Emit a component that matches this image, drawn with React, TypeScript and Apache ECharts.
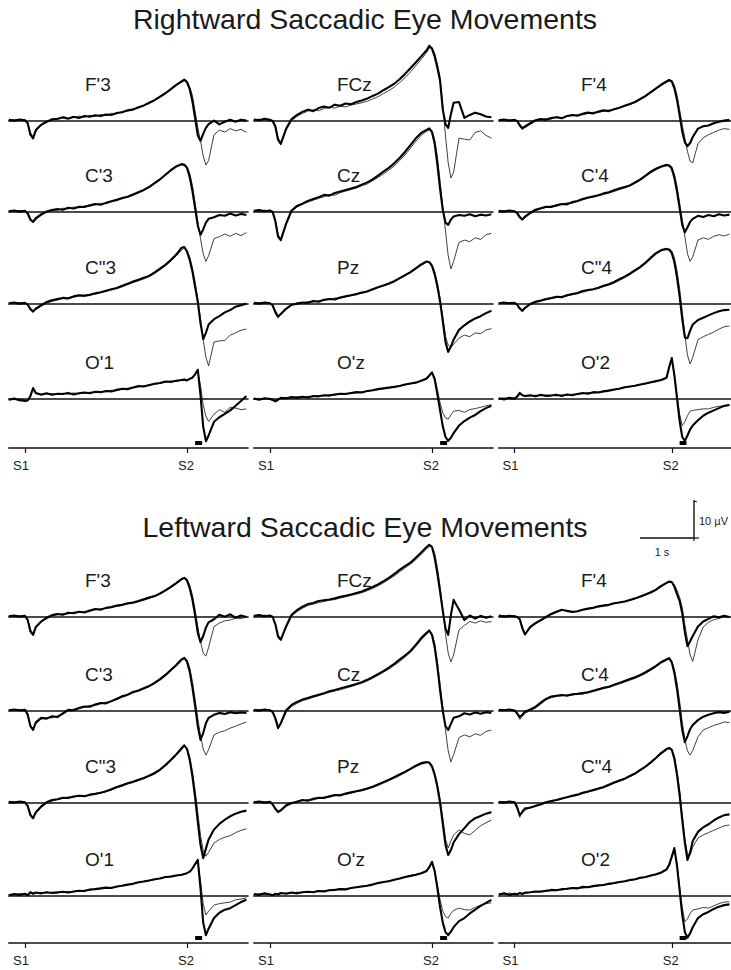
import React, { useEffect, useRef } from "react";
import * as echarts from "echarts";

// Sample times (s, relative to S1 onset)
const TIME_S = [-0.3, -0.2, -0.1, 0, 0.05, 0.1, 0.15, 0.2, 0.3, 0.4, 0.5, 0.6, 0.7, 0.8, 0.9, 1.0, 1.1, 1.2, 1.3, 1.4, 1.5, 1.6, 1.7, 1.8, 1.9, 2.0, 2.1, 2.2, 2.3, 2.4, 2.5, 2.6, 2.7, 2.8, 2.9, 2.95, 3.0, 3.05, 3.1, 3.15, 3.2, 3.25, 3.3, 3.35, 3.4, 3.5, 3.6, 3.7, 3.8, 3.9, 4.0, 4.1];

// Stimulus markers on the time axis
const STIM_TIMES = [0, 3];
const STIM_LABELS = ["S1", "S2"];
// Saccade onset bar (s)
const SACCADE_BAR_S = [3.15, 3.28];
// Calibration bar: 1 s by 10 µV
const CAL_SECONDS = 1;
const CAL_MICROVOLTS = 10;

const HALF_TITLES = ["Rightward Saccadic Eye Movements", "Leftward Saccadic Eye Movements"];
const ELECTRODES = [
  ["F'3", "FCz", "F'4"],
  ["C'3", "Cz", "C'4"],
  ['C"3', "Pz", 'C"4'],
  ["O'1", "O'z", "O'2"],
];

// ---- Rightward saccades (µV): _A bold trace, _B thin trace ----
const R_F3_A = [0.3, 0.1, 0.4, 0.2, -0.6, -3.6, -4.6, -2.4, -1.0, -0.2, 0.4, 0.6, 0.9, 0.6, 1.1, 0.8, 1.3, 1.1, 1.5, 1.3, 1.7, 1.6, 2.1, 2.3, 2.8, 3.0, 3.6, 4.1, 4.8, 5.5, 6.4, 7.3, 8.4, 9.5, 10.4, 10.9, 10.2, 8.4, 5.2, 0.8, -3.8, -5.2, -3.4, -1.8, -0.8, 0.1, -0.9, -0.2, 0.3, -0.2, 0.3, 0.1];
const R_F3_B = [0.2, 0.3, 0.1, 0.3, -0.4, -3.0, -4.2, -2.8, -0.8, -0.4, 0.7, 0.3, 1.2, 0.8, 0.9, 1.3, 1.0, 1.5, 1.2, 1.7, 1.4, 2.0, 1.9, 2.5, 2.6, 3.2, 3.4, 4.0, 4.6, 5.4, 6.2, 7.2, 8.2, 9.3, 10.2, 10.6, 10.5, 9.0, 6.8, 2.6, -1.8, -5.2, -9.2, -11.6, -10.4, -3.6, -2.4, -2.9, -2.0, -2.6, -2.2, -3.0];
const R_FCZ_A = [0.4, 0.2, 0.6, 0.3, 0.0, -1.5, -5.0, -6.0, -2.0, 0.5, 1.6, 2.4, 3.0, 2.6, 3.4, 3.8, 3.5, 4.3, 4.0, 4.6, 4.4, 5.0, 5.4, 5.9, 6.6, 7.2, 8.1, 8.9, 9.8, 11.0, 12.4, 13.9, 15.4, 17.0, 18.6, 19.8, 19.0, 17.0, 14.0, 10.5, 3.0, -0.8, -1.8, 1.8, 4.8, 5.0, 0.8, 1.6, 2.2, 1.8, 1.2, 1.0];
const R_FCZ_B = [0.3, 0.5, 0.2, 0.4, 0.1, -1.2, -4.4, -5.6, -2.4, 0.1, 1.2, 2.0, 2.6, 2.9, 2.7, 3.3, 3.6, 3.4, 3.9, 3.7, 4.2, 4.5, 4.8, 5.2, 5.8, 6.4, 7.2, 8.0, 8.9, 10.1, 11.4, 12.9, 14.5, 16.2, 18.0, 19.2, 19.4, 17.8, 15.0, 11.5, 4.0, -4.0, -11.0, -15.0, -13.5, -4.5, -4.8, -5.0, -3.0, -2.6, -3.8, -4.5];
const R_F4_A = [0.2, 0.4, 0.1, 0.3, 0.0, -1.2, -2.0, -1.4, -0.6, 0.2, 0.5, 0.3, 0.8, 1.0, 0.7, 1.3, 1.6, 1.4, 1.9, 2.2, 2.0, 2.5, 2.8, 2.6, 3.1, 3.5, 4.0, 4.5, 5.0, 5.8, 6.6, 7.6, 8.6, 9.6, 10.4, 10.8, 10.4, 8.6, 5.6, 1.5, -2.8, -5.6, -6.6, -5.8, -4.2, -2.0, -1.4, -1.2, -0.6, -0.2, 0.1, 0.3];
const R_F4_B = [0.4, 0.1, 0.3, 0.2, 0.1, -0.8, -1.6, -1.8, -0.9, 0.0, 0.3, 0.6, 0.5, 1.1, 0.9, 1.2, 1.4, 1.7, 1.6, 2.0, 2.3, 2.2, 2.6, 2.9, 3.0, 3.4, 3.9, 4.3, 4.9, 5.6, 6.4, 7.4, 8.4, 9.3, 10.2, 10.5, 10.6, 9.4, 6.8, 3.0, -1.0, -4.5, -8.0, -10.6, -11.0, -6.0, -4.4, -3.6, -3.0, -2.4, -2.0, -2.2];
const R_C3_A = [0.2, 0.4, 0.1, 0.3, -0.4, -2.0, -2.6, -1.6, -0.6, 0.1, 0.5, 0.8, 0.6, 1.1, 0.9, 1.4, 1.3, 1.8, 2.1, 1.9, 2.4, 2.8, 3.2, 3.7, 4.0, 4.6, 5.2, 5.8, 6.6, 7.6, 8.6, 9.8, 11.0, 12.0, 12.6, 12.4, 11.6, 9.2, 5.6, 1.0, -3.6, -6.0, -4.6, -2.8, -1.8, -1.4, -0.8, -1.0, -0.4, -0.9, -0.5, -0.8];
const R_C3_B = [0.3, 0.2, 0.4, 0.1, -0.2, -1.6, -2.8, -2.0, -0.9, -0.1, 0.6, 0.4, 1.0, 0.8, 1.3, 1.1, 1.6, 1.5, 1.9, 2.3, 2.2, 2.7, 3.0, 3.5, 3.9, 4.4, 5.0, 5.7, 6.4, 7.4, 8.5, 9.6, 10.8, 11.8, 12.4, 12.6, 12.0, 10.2, 7.0, 2.5, -2.5, -7.0, -11.0, -13.0, -11.5, -7.0, -6.5, -5.8, -6.4, -5.6, -6.2, -5.4];
const R_CZ_A = [0.3, 0.5, 0.2, 0.4, 0.0, -2.5, -6.5, -7.4, -3.0, 0.4, 1.6, 2.2, 2.9, 3.4, 3.9, 4.5, 4.3, 5.0, 5.4, 5.8, 6.2, 6.6, 7.2, 7.8, 8.6, 9.6, 10.6, 11.6, 12.8, 14.2, 15.8, 17.6, 19.4, 20.8, 21.6, 22.0, 21.0, 18.0, 12.5, 6.0, 0.5, -2.8, -3.4, -2.0, -1.2, -0.8, -1.0, -0.6, -1.1, -0.7, -0.9, -0.6];
const R_CZ_B = [0.4, 0.2, 0.5, 0.2, 0.1, -2.0, -6.0, -7.0, -3.4, 0.1, 1.3, 2.0, 2.6, 3.1, 3.6, 4.0, 4.6, 4.4, 5.1, 5.5, 5.9, 6.3, 6.9, 7.4, 8.2, 9.1, 10.0, 11.0, 12.1, 13.5, 15.0, 16.8, 18.6, 20.2, 21.2, 21.6, 21.4, 19.0, 14.5, 8.0, 1.5, -5.0, -11.5, -15.0, -13.0, -8.0, -7.4, -7.8, -6.8, -7.2, -6.0, -5.6];
const R_C4_A = [0.3, 0.1, 0.4, 0.2, -0.3, -1.4, -2.0, -1.2, -0.2, 0.6, 1.0, 1.4, 1.3, 1.8, 2.1, 2.0, 2.6, 2.9, 3.4, 3.8, 4.1, 4.4, 4.9, 5.2, 5.7, 6.2, 6.6, 7.0, 7.8, 8.6, 9.6, 10.6, 11.4, 12.0, 12.4, 12.2, 11.4, 9.0, 5.4, 1.0, -3.4, -5.3, -4.0, -2.6, -1.8, -1.0, -1.3, -0.8, -1.1, -0.6, -0.9, -0.7];
const R_C4_B = [0.2, 0.4, 0.2, 0.3, -0.1, -1.0, -1.8, -1.5, -0.5, 0.3, 0.8, 1.2, 1.6, 1.5, 2.0, 2.4, 2.3, 2.8, 3.2, 3.6, 3.9, 4.3, 4.6, 5.0, 5.4, 5.9, 6.3, 6.9, 7.5, 8.3, 9.3, 10.3, 11.1, 11.8, 12.2, 12.4, 12.0, 10.0, 6.8, 2.4, -2.0, -6.5, -11.0, -13.0, -11.8, -7.4, -6.8, -7.2, -6.4, -6.0, -6.3, -5.8];
const R_C3P_A = [0.2, 0.4, 0.1, 0.3, -0.2, -1.4, -2.0, -1.2, -0.3, 0.5, 1.0, 1.3, 1.6, 1.5, 2.0, 2.3, 2.2, 2.4, 2.8, 3.1, 3.5, 3.9, 4.2, 4.8, 5.3, 5.9, 6.4, 6.9, 7.4, 8.3, 9.3, 10.3, 11.6, 13.0, 14.8, 15.0, 13.8, 11.6, 8.6, 4.5, 0.5, -5.0, -9.2, -7.6, -5.4, -4.0, -3.2, -2.2, -1.6, -0.7, -0.3, 0.1];
const R_C3P_B = [0.3, 0.2, 0.4, 0.1, 0.0, -1.0, -1.8, -1.5, -0.6, 0.2, 0.7, 1.0, 1.5, 1.3, 1.8, 2.1, 2.0, 2.5, 2.6, 3.0, 3.3, 3.7, 4.1, 4.5, 5.1, 5.6, 6.1, 6.6, 7.2, 8.0, 9.0, 10.1, 11.3, 12.6, 14.2, 14.8, 14.0, 12.4, 9.6, 5.8, 1.5, -4.0, -9.5, -14.0, -16.3, -10.0, -9.7, -9.6, -8.2, -7.6, -6.9, -6.6];
const R_PZ_A = [0.3, 0.1, 0.4, 0.2, -0.4, -2.2, -3.4, -2.6, -1.2, -0.2, 0.1, 0.4, 0.3, 0.8, 0.6, 1.1, 1.3, 1.2, 1.7, 2.0, 2.3, 2.6, 3.0, 3.3, 3.9, 4.4, 4.9, 5.4, 6.0, 6.8, 7.6, 8.4, 9.4, 10.4, 11.2, 11.0, 10.0, 7.8, 4.6, 0.6, -4.5, -10.0, -12.6, -11.2, -9.4, -6.8, -5.6, -4.6, -3.8, -3.2, -2.4, -1.8];
const R_PZ_B = [0.2, 0.4, 0.2, 0.3, -0.2, -1.8, -3.0, -2.9, -1.5, -0.4, 0.3, 0.2, 0.6, 0.5, 0.9, 1.0, 1.2, 1.6, 1.5, 1.9, 2.2, 2.7, 2.8, 3.4, 3.7, 4.3, 4.7, 5.2, 5.8, 6.6, 7.4, 8.2, 9.2, 10.2, 11.0, 11.2, 10.4, 8.6, 5.6, 1.5, -3.5, -8.5, -10.8, -11.4, -10.6, -9.0, -8.2, -8.6, -7.6, -7.8, -6.8, -6.5];
const R_C4P_A = [0.2, 0.4, 0.2, 0.3, -0.2, -1.2, -1.8, -1.0, 0.0, 0.6, 0.9, 1.3, 1.6, 1.9, 1.8, 2.3, 2.6, 2.9, 3.4, 3.7, 3.9, 4.3, 4.8, 5.2, 5.8, 6.5, 7.2, 8.0, 8.9, 9.8, 10.9, 12.2, 13.4, 14.2, 14.5, 14.3, 13.4, 11.0, 7.0, 2.0, -4.0, -8.8, -9.0, -7.0, -5.4, -4.2, -3.6, -3.0, -2.4, -1.9, -1.6, -1.5];
const R_C4P_B = [0.3, 0.1, 0.4, 0.2, 0.0, -0.9, -1.6, -1.2, -0.2, 0.4, 0.7, 1.1, 1.4, 1.7, 2.0, 2.1, 2.5, 2.7, 3.1, 3.5, 3.8, 4.1, 4.6, 5.0, 5.5, 6.2, 6.9, 7.7, 8.6, 9.5, 10.6, 11.9, 13.1, 14.0, 14.4, 14.5, 14.0, 12.2, 8.8, 4.0, -2.0, -8.0, -13.5, -15.8, -14.0, -9.4, -8.6, -8.0, -7.4, -6.6, -6.0, -5.8];
const R_O1_A = [-0.2, 0.1, -0.3, -0.5, -0.4, 0.8, 2.9, 1.6, 1.2, 1.5, 1.1, 1.4, 1.3, 1.6, 1.2, 1.5, 1.7, 1.5, 1.9, 1.8, 2.1, 2.0, 2.4, 2.7, 2.6, 3.0, 3.4, 3.3, 3.7, 4.0, 4.2, 4.6, 4.5, 4.8, 5.0, 5.1, 4.9, 5.3, 5.6, 6.5, 7.7, 1.0, -7.3, -11.1, -9.6, -6.0, -4.8, -3.9, -3.0, -1.8, -0.5, 0.8];
const R_O1_B = [-0.3, 0.2, -0.1, -0.4, -0.3, 0.6, 2.4, 1.4, 1.0, 1.3, 1.4, 1.2, 1.5, 1.3, 1.6, 1.4, 1.5, 1.8, 1.7, 2.0, 1.9, 2.3, 2.2, 2.6, 2.8, 2.9, 3.2, 3.5, 3.5, 3.9, 4.1, 4.4, 4.7, 4.6, 5.0, 5.2, 5.0, 5.4, 5.8, 6.6, 7.4, 3.5, -1.5, -4.6, -5.9, -4.0, -2.8, -3.5, -2.2, -2.4, -2.8, -2.6];
const R_OZ_A = [0.1, -0.2, 0.2, 0.0, -0.3, -0.6, -0.2, 0.3, 0.2, 0.5, 0.3, 0.6, 0.4, 0.8, 0.7, 1.0, 0.9, 1.2, 1.4, 1.3, 1.6, 1.8, 1.7, 2.1, 2.3, 2.6, 2.8, 3.0, 3.2, 3.4, 3.8, 4.1, 4.3, 4.8, 5.4, 6.2, 7.0, 5.2, 1.2, -3.0, -7.2, -10.0, -11.0, -10.2, -9.0, -7.0, -5.8, -4.9, -4.2, -3.2, -2.4, -1.8];
const R_OZ_B = [-0.1, 0.2, 0.0, 0.2, -0.1, -0.4, 0.1, 0.2, 0.4, 0.3, 0.6, 0.4, 0.7, 0.6, 0.9, 0.8, 1.1, 1.0, 1.3, 1.5, 1.4, 1.7, 1.9, 2.0, 2.2, 2.5, 2.7, 2.9, 3.1, 3.5, 3.7, 4.0, 4.4, 4.7, 5.2, 6.0, 6.8, 5.6, 2.4, -1.0, -3.6, -5.0, -5.3, -4.2, -3.2, -3.0, -3.5, -2.8, -2.5, -2.2, -1.8, -1.5];
const R_O2_A = [0.2, -0.1, 0.3, 0.1, 0.6, 1.6, 1.0, 0.8, 1.0, 0.7, 1.1, 0.8, 0.9, 1.1, 0.8, 1.2, 1.0, 1.3, 1.6, 1.4, 1.8, 1.7, 2.0, 2.2, 2.5, 2.7, 3.1, 3.3, 3.5, 3.8, 4.1, 4.4, 4.7, 5.0, 5.6, 8.4, 10.8, 6.2, 0.2, -5.8, -10.0, -11.0, -9.6, -8.0, -7.0, -5.6, -4.4, -3.6, -3.0, -2.4, -1.8, -1.6];
const R_O2_B = [0.1, 0.3, 0.0, 0.2, 0.4, 1.3, 1.1, 0.7, 0.8, 1.0, 0.8, 1.1, 1.0, 0.8, 1.1, 1.0, 1.3, 1.2, 1.4, 1.7, 1.6, 1.9, 2.1, 2.3, 2.4, 2.8, 3.0, 3.2, 3.6, 3.7, 4.0, 4.3, 4.6, 5.1, 5.5, 8.0, 10.2, 6.6, 1.0, -4.0, -7.0, -6.0, -4.4, -3.2, -3.0, -2.8, -2.6, -2.6, -2.2, -1.9, -1.8, -1.6];

// ---- Leftward saccades (µV) ----
const L_F3_A = [0.2, 0.4, 0.1, 0.3, -0.8, -3.8, -4.7, -2.6, -1.2, -0.2, 0.5, 0.8, 0.6, 1.1, 1.0, 1.4, 1.2, 1.7, 2.1, 1.9, 2.4, 2.6, 3.0, 3.2, 3.6, 3.8, 4.2, 4.7, 5.1, 5.5, 6.2, 7.0, 7.9, 8.9, 10.0, 10.3, 9.6, 7.6, 4.6, 0.5, -4.2, -6.6, -5.0, -2.8, -1.4, -0.6, 0.6, 0.1, 0.7, -0.2, 0.4, 0.0];
const L_F3_B = [0.3, 0.1, 0.4, 0.2, -0.5, -3.2, -4.4, -2.9, -1.0, -0.5, 0.3, 0.6, 0.9, 0.8, 1.3, 1.2, 1.5, 1.5, 1.9, 2.2, 2.3, 2.6, 2.8, 3.1, 3.4, 3.6, 4.0, 4.4, 4.9, 5.4, 6.0, 6.8, 7.7, 8.7, 9.8, 10.2, 10.0, 8.4, 5.8, 2.0, -2.5, -6.5, -9.5, -10.3, -8.0, -2.5, -1.6, -1.0, -0.8, -0.3, -0.4, 0.0];
const L_FCZ_A = [0.3, 0.5, 0.2, 0.4, 0.0, -2.0, -5.2, -6.0, -2.4, 0.6, 1.8, 2.7, 3.4, 3.7, 4.2, 4.4, 4.6, 4.9, 5.3, 5.6, 5.9, 6.3, 6.7, 7.3, 7.9, 8.6, 9.4, 10.3, 11.3, 12.4, 13.4, 14.3, 15.6, 17.0, 18.4, 19.0, 18.4, 15.6, 11.4, 6.6, 1.6, -3.0, -4.7, 0.5, 4.5, 2.0, -0.8, 0.4, -0.4, 0.3, -0.2, 0.2];
const L_FCZ_B = [0.4, 0.2, 0.5, 0.2, 0.1, -1.6, -4.8, -5.6, -2.8, 0.2, 1.4, 2.3, 3.0, 3.4, 3.8, 4.1, 4.4, 4.6, 5.0, 5.3, 5.7, 6.0, 6.4, 6.9, 7.5, 8.2, 9.0, 9.9, 10.8, 11.9, 12.9, 13.9, 15.1, 16.5, 17.9, 18.6, 18.6, 16.8, 13.0, 8.0, 2.0, -4.5, -9.5, -11.8, -10.0, -3.4, -2.2, -1.2, -1.6, -1.0, -1.4, -1.2];
const L_F4_A = [0.4, 0.1, 0.3, 0.2, 0.0, -0.6, -3.0, -4.6, -2.6, -1.6, -0.8, 0.0, 0.8, 1.4, 1.9, 1.6, 1.3, 1.5, 1.9, 2.2, 2.4, 2.8, 3.0, 3.2, 3.6, 3.8, 4.1, 4.5, 4.9, 5.4, 5.9, 6.5, 7.2, 8.2, 9.0, 9.3, 9.2, 8.0, 6.0, 4.2, 1.0, -4.0, -7.7, -6.4, -5.0, -2.5, -1.2, -0.5, 0.2, -0.1, 0.3, 0.0];
const L_F4_B = [0.2, 0.4, 0.1, 0.3, 0.1, -0.4, -2.6, -4.3, -2.9, -1.8, -1.0, -0.2, 0.6, 1.2, 1.7, 1.8, 1.5, 1.4, 2.0, 2.1, 2.5, 2.6, 3.1, 3.3, 3.5, 3.9, 4.0, 4.4, 4.8, 5.2, 5.8, 6.3, 7.0, 8.0, 8.8, 9.3, 9.2, 8.4, 7.0, 5.2, 2.4, -2.0, -6.0, -10.0, -11.7, -6.0, -2.6, -1.4, -0.7, -0.4, 0.1, 0.0];
const L_C3_A = [0.2, 0.4, 0.2, 0.3, -1.0, -4.0, -5.0, -3.0, -1.8, -2.0, -1.4, -1.6, -0.6, 0.3, 0.2, 0.8, 1.2, 1.1, 1.7, 2.1, 2.0, 2.6, 3.2, 3.9, 4.3, 5.0, 5.4, 6.0, 6.6, 7.4, 8.4, 9.5, 10.8, 12.1, 13.6, 14.0, 13.0, 10.4, 6.2, 1.4, -4.0, -7.6, -5.8, -3.2, -1.8, -1.0, -0.5, -0.8, -0.3, -0.6, -0.4, -0.5];
const L_C3_B = [0.3, 0.2, 0.4, 0.1, -0.6, -3.6, -4.8, -3.4, -2.1, -1.7, -1.8, -1.3, -0.9, 0.0, 0.5, 0.6, 1.0, 1.5, 1.4, 1.9, 2.3, 2.5, 3.0, 3.6, 4.1, 4.8, 5.2, 5.8, 6.4, 7.2, 8.1, 9.2, 10.5, 11.8, 13.2, 13.8, 13.4, 11.4, 7.8, 3.0, -2.0, -6.5, -10.0, -11.6, -10.2, -6.3, -5.6, -5.2, -4.5, -4.0, -3.4, -2.9];
const L_CZ_A = [0.3, 0.1, 0.4, 0.2, -0.3, -2.0, -4.5, -3.2, 0.2, 1.6, 2.4, 3.0, 3.4, 3.9, 4.3, 4.7, 5.2, 5.5, 5.9, 6.3, 6.7, 7.1, 7.6, 8.2, 8.9, 9.7, 10.5, 11.4, 12.4, 13.5, 14.6, 15.8, 17.4, 19.2, 20.6, 21.2, 20.0, 16.8, 11.6, 5.4, 0.0, -4.0, -5.0, -3.4, -1.8, -1.4, -0.6, -0.9, -0.4, -0.7, -0.3, -0.5];
const L_CZ_B = [0.2, 0.4, 0.1, 0.3, -0.1, -1.6, -4.0, -3.5, -0.2, 1.2, 2.0, 2.7, 3.1, 3.6, 4.0, 4.5, 4.9, 5.3, 5.6, 6.0, 6.4, 6.9, 7.3, 7.9, 8.6, 9.4, 10.2, 11.0, 12.0, 13.0, 14.2, 15.4, 17.0, 18.7, 20.2, 21.0, 20.4, 17.8, 13.0, 7.0, 1.0, -5.0, -10.5, -13.4, -11.5, -7.0, -6.3, -6.8, -6.0, -6.4, -5.4, -5.0];
const L_C4_A = [0.3, 0.2, 0.4, 0.1, -0.6, -1.6, -1.0, -0.2, 0.4, 1.1, 2.2, 3.2, 3.8, 4.0, 4.2, 4.0, 4.4, 4.5, 4.7, 4.9, 5.3, 5.7, 6.1, 6.4, 6.9, 7.4, 7.9, 8.4, 8.9, 9.5, 10.2, 11.0, 11.9, 12.9, 13.6, 13.9, 12.8, 10.0, 5.8, 0.5, -5.0, -8.2, -6.6, -4.8, -3.7, -2.4, -1.5, -1.0, -0.6, -0.3, -0.5, -0.2];
const L_C4_B = [0.2, 0.4, 0.1, 0.3, -0.8, -2.2, -1.4, -0.6, 0.1, 0.8, 1.8, 2.9, 3.5, 3.8, 4.0, 4.3, 4.1, 4.6, 4.4, 5.0, 5.1, 5.5, 5.9, 6.2, 6.7, 7.1, 7.6, 8.1, 8.6, 9.2, 9.9, 10.7, 11.6, 12.6, 13.3, 13.8, 13.0, 11.0, 7.4, 2.5, -3.0, -7.5, -10.5, -11.6, -10.4, -6.8, -5.0, -4.4, -3.8, -3.4, -2.9, -3.0];
const L_C3P_A = [0.3, 0.1, 0.4, 0.2, -0.8, -3.2, -4.0, -2.4, -0.9, 0.2, 0.8, 1.0, 1.4, 1.3, 1.7, 1.9, 1.8, 2.2, 2.4, 2.7, 3.1, 3.6, 4.2, 4.7, 5.2, 5.6, 6.1, 6.6, 7.2, 7.9, 8.8, 10.0, 11.3, 12.8, 14.4, 15.2, 14.2, 11.4, 7.0, 1.5, -5.0, -11.0, -14.5, -12.0, -9.6, -7.0, -5.5, -4.4, -3.5, -2.8, -2.3, -2.0];
const L_C3P_B = [0.2, 0.4, 0.2, 0.3, -0.5, -2.8, -3.8, -2.8, -1.2, -0.1, 0.5, 0.9, 1.2, 1.6, 1.5, 2.0, 1.9, 2.0, 2.5, 2.6, 3.0, 3.4, 4.0, 4.4, 5.0, 5.4, 5.9, 6.4, 7.0, 7.6, 8.5, 9.7, 11.0, 12.5, 14.0, 15.0, 14.4, 12.2, 8.4, 3.4, -2.5, -8.5, -12.5, -14.0, -13.0, -10.5, -9.6, -9.0, -8.6, -7.8, -7.2, -6.8];
const L_PZ_A = [0.2, 0.4, 0.1, 0.3, -0.4, -1.6, -2.4, -1.9, -0.6, 0.0, 0.3, 0.8, 0.6, 1.1, 1.4, 1.3, 1.8, 2.1, 2.0, 2.5, 2.8, 3.1, 3.4, 3.8, 4.3, 4.9, 5.5, 6.1, 6.8, 7.5, 8.2, 9.0, 9.8, 10.5, 10.8, 10.6, 9.6, 7.4, 4.2, 0.0, -5.5, -11.0, -13.7, -12.4, -10.4, -8.2, -6.6, -5.0, -4.0, -3.4, -2.8, -2.4];
const L_PZ_B = [0.3, 0.2, 0.4, 0.1, -0.2, -1.2, -2.1, -2.2, -0.9, -0.2, 0.5, 0.6, 0.9, 0.8, 1.2, 1.6, 1.5, 1.9, 2.3, 2.2, 2.6, 3.0, 3.2, 3.6, 4.1, 4.6, 5.2, 5.9, 6.5, 7.2, 8.0, 8.8, 9.6, 10.2, 10.6, 10.8, 10.0, 8.0, 5.0, 1.0, -4.0, -9.5, -11.8, -10.0, -8.4, -7.1, -8.0, -8.4, -7.2, -6.0, -5.2, -4.5];
const L_C4P_A = [0.3, 0.1, 0.4, 0.2, -1.2, -3.2, -2.4, -1.6, -1.2, -0.8, -0.3, 0.2, 0.5, 0.8, 1.2, 1.5, 1.9, 2.2, 2.7, 3.0, 3.4, 3.8, 4.2, 4.8, 5.4, 5.9, 6.4, 7.1, 7.8, 8.7, 9.6, 10.7, 11.9, 13.2, 14.2, 14.5, 14.0, 11.6, 7.4, 2.0, -4.5, -10.5, -15.0, -13.0, -10.0, -7.6, -6.4, -5.6, -4.6, -3.8, -3.2, -3.0];
const L_C4P_B = [0.2, 0.4, 0.1, 0.3, -0.6, -3.8, -1.8, -1.2, -1.4, -0.6, -0.5, 0.0, 0.6, 0.7, 1.0, 1.6, 1.7, 2.0, 2.5, 2.9, 3.2, 3.6, 4.0, 4.6, 5.2, 5.7, 6.2, 6.9, 7.6, 8.5, 9.4, 10.5, 11.7, 12.9, 13.9, 14.3, 14.2, 12.4, 8.6, 3.5, -3.0, -9.5, -13.5, -13.7, -11.6, -9.2, -8.4, -7.8, -7.2, -6.6, -6.0, -5.8];
const L_O1_A = [0.2, 0.5, 0.3, 0.6, 0.2, 1.0, 0.6, 0.9, 0.7, 1.0, 0.8, 0.9, 1.1, 0.9, 1.2, 1.4, 1.3, 1.7, 1.8, 2.0, 2.2, 2.1, 2.5, 2.7, 3.0, 3.2, 3.6, 3.8, 4.1, 4.4, 4.6, 5.0, 5.1, 5.4, 5.6, 5.8, 6.0, 6.4, 7.2, 8.4, 9.5, 2.0, -7.0, -10.3, -8.6, -5.8, -4.4, -3.6, -3.2, -2.4, -1.6, -1.0];
const L_O1_B = [0.4, 0.3, 0.6, 0.4, 0.3, 0.8, 0.7, 0.8, 0.9, 0.8, 1.0, 1.1, 0.9, 1.2, 1.1, 1.3, 1.5, 1.5, 1.9, 1.9, 2.1, 2.3, 2.4, 2.8, 2.9, 3.3, 3.5, 3.9, 4.0, 4.3, 4.7, 4.9, 5.2, 5.3, 5.5, 5.7, 6.1, 6.5, 7.3, 8.3, 9.0, 4.0, -2.0, -5.0, -4.0, -2.4, -2.0, -1.8, -1.6, -1.0, -0.8, -0.5];
const L_OZ_A = [0.5, 0.3, 0.7, 0.4, 0.2, 0.6, 0.4, 0.8, 0.6, 0.9, 0.7, 1.0, 1.1, 1.0, 1.3, 1.2, 1.5, 1.6, 1.8, 1.7, 2.1, 2.3, 2.5, 2.7, 3.0, 3.4, 3.7, 3.9, 4.3, 4.6, 5.0, 5.3, 5.6, 6.0, 6.6, 7.6, 9.0, 6.5, 2.0, -3.0, -7.0, -9.5, -10.3, -9.4, -8.2, -6.6, -5.8, -4.6, -3.6, -2.6, -1.8, -1.0];
const L_OZ_B = [0.3, 0.6, 0.4, 0.5, 0.3, 0.5, 0.6, 0.6, 0.8, 0.7, 1.0, 0.9, 1.2, 1.1, 1.4, 1.4, 1.6, 1.7, 1.9, 2.0, 2.0, 2.4, 2.6, 2.8, 3.1, 3.3, 3.6, 4.0, 4.2, 4.5, 4.9, 5.2, 5.5, 5.9, 6.4, 7.4, 8.6, 6.8, 3.0, -1.0, -4.0, -5.4, -5.8, -4.6, -3.8, -3.2, -3.6, -3.7, -3.0, -2.4, -2.0, -1.8];
const L_O2_A = [0.4, 0.7, 0.3, 0.6, 0.4, 0.8, 0.5, 0.9, 1.0, 1.2, 1.1, 1.4, 1.6, 1.5, 1.8, 1.9, 2.1, 2.0, 2.4, 2.3, 2.6, 2.8, 2.9, 3.2, 3.4, 3.7, 3.9, 4.2, 4.4, 4.8, 5.0, 5.4, 5.7, 6.2, 7.0, 8.2, 10.4, 12.6, 8.0, 1.5, -5.0, -9.5, -11.0, -9.8, -8.2, -5.8, -4.8, -4.2, -3.4, -2.8, -2.4, -2.2];
const L_O2_B = [0.6, 0.4, 0.8, 0.5, 0.6, 0.7, 0.8, 0.7, 0.9, 1.1, 1.3, 1.2, 1.4, 1.7, 1.6, 1.8, 2.0, 2.2, 2.1, 2.5, 2.5, 2.7, 3.0, 3.1, 3.3, 3.6, 3.8, 4.1, 4.3, 4.7, 4.9, 5.3, 5.6, 6.0, 6.8, 8.0, 10.0, 12.0, 8.2, 2.5, -3.0, -6.8, -6.0, -4.6, -3.7, -3.4, -3.0, -3.2, -2.6, -2.0, -1.6, -1.5];

// [half][row][col] -> [bold, thin]
const TRACES = [
  [
    [[R_F3_A, R_F3_B], [R_FCZ_A, R_FCZ_B], [R_F4_A, R_F4_B]],
    [[R_C3_A, R_C3_B], [R_CZ_A, R_CZ_B], [R_C4_A, R_C4_B]],
    [[R_C3P_A, R_C3P_B], [R_PZ_A, R_PZ_B], [R_C4P_A, R_C4P_B]],
    [[R_O1_A, R_O1_B], [R_OZ_A, R_OZ_B], [R_O2_A, R_O2_B]],
  ],
  [
    [[L_F3_A, L_F3_B], [L_FCZ_A, L_FCZ_B], [L_F4_A, L_F4_B]],
    [[L_C3_A, L_C3_B], [L_CZ_A, L_CZ_B], [L_C4_A, L_C4_B]],
    [[L_C3P_A, L_C3P_B], [L_PZ_A, L_PZ_B], [L_C4P_A, L_C4P_B]],
    [[L_O1_A, L_O1_B], [L_OZ_A, L_OZ_B], [L_O2_A, L_O2_B]],
  ],
];

// ---- layout ----
const W = 731;
const H = 970;
const PX_PER_S = 54;
const PX_PER_UV = 3.8;
const X_MIN = -0.3;
const X_MAX = 4.13;
const Y_MIN = -18;
const Y_MAX = 24;
const COL_S1_X = [25, 270, 515];
const ROW_BASE_Y = [
  [121, 212, 304, 399],
  [617, 711, 803, 896],
];
const LABEL_X = [85, 337, 581];
const LABEL_DY = 37;
const TIME_AXIS_Y = [448, 943];
const TITLE_Y = [19, 527];
const CAL_ORIGIN = [640, 538];
const FONT = '"Liberation Sans", Arial, Helvetica, sans-serif';
const INK = "#111";

function buildOption() {
  const grid: any[] = [];
  const xAxis: any[] = [];
  const yAxis: any[] = [];
  const series: any[] = [];
  const graphic: any[] = [];
  const panelWidth = (X_MAX - X_MIN) * PX_PER_S;
  let gi = 0;

  for (let h = 0; h < 2; h++) {
    graphic.push({
      type: "text",
      x: 365,
      y: TITLE_Y[h],
      style: {
        text: HALF_TITLES[h],
        fontSize: 28.5,
        fontFamily: FONT,
        fill: "#1a1a1a",
        align: "center",
        verticalAlign: "middle",
      },
    });

    for (let r = 0; r < 4; r++) {
      for (let c = 0; c < 3; c++) {
        const base = ROW_BASE_Y[h][r];
        const left = COL_S1_X[c] + X_MIN * PX_PER_S;
        grid.push({
          left,
          top: base - Y_MAX * PX_PER_UV,
          width: panelWidth,
          height: (Y_MAX - Y_MIN) * PX_PER_UV,
          containLabel: false,
        });
        xAxis.push({
          type: "value",
          gridIndex: gi,
          min: X_MIN,
          max: X_MAX,
          axisLine: { show: true, onZero: true, lineStyle: { color: INK, width: 1.6 } },
          axisTick: { show: false },
          axisLabel: { show: false },
          splitLine: { show: false },
        });
        yAxis.push({
          type: "value",
          gridIndex: gi,
          min: Y_MIN,
          max: Y_MAX,
          axisLine: { show: false },
          axisTick: { show: false },
          axisLabel: { show: false },
          splitLine: { show: false },
        });
        const [bold, thin] = TRACES[h][r][c];
        series.push({
          type: "line",
          xAxisIndex: gi,
          yAxisIndex: gi,
          data: TIME_S.map((t, i) => [t, thin[i]]),
          showSymbol: false,
          silent: true,
          clip: true,
          z: 2,
          lineStyle: { color: "#2a2a2a", width: 0.9 },
        });
        series.push({
          type: "line",
          xAxisIndex: gi,
          yAxisIndex: gi,
          data: TIME_S.map((t, i) => [t, bold[i]]),
          showSymbol: false,
          silent: true,
          clip: true,
          z: 3,
          lineStyle: { color: "#000", width: 2.1, join: "round" },
        });
        graphic.push({
          type: "text",
          x: LABEL_X[c],
          y: base - LABEL_DY,
          style: {
            text: ELECTRODES[r][c],
            fontSize: 19,
            fontFamily: FONT,
            fill: "#1a1a1a",
            align: "left",
            verticalAlign: "middle",
          },
        });
        gi++;
      }
    }

    // time axes with stimulus ticks and saccade bar
    for (let c = 0; c < 3; c++) {
      const left = COL_S1_X[c] + X_MIN * PX_PER_S;
      grid.push({
        left,
        top: TIME_AXIS_Y[h] - 10,
        width: panelWidth,
        height: 10,
        containLabel: false,
      });
      xAxis.push({
        type: "value",
        gridIndex: gi,
        min: X_MIN,
        max: X_MAX,
        position: "bottom",
        axisLine: { show: true, onZero: false, lineStyle: { color: INK, width: 1.6 } },
        axisTick: {
          show: true,
          customValues: STIM_TIMES,
          length: 5,
          inside: false,
          lineStyle: { color: INK, width: 1.2 },
        },
        axisLabel: {
          show: true,
          customValues: STIM_TIMES,
          formatter: (v: number) => {
            const i = STIM_TIMES.indexOf(v);
            return i === 0 ? `{a|${STIM_LABELS[i]}}` : `{b|${STIM_LABELS[i] ?? ""}}`;
          },
          rich: {
            a: { fontSize: 13, fontFamily: FONT, color: "#1a1a1a", padding: [0, 8, 0, 0] },
            b: { fontSize: 13, fontFamily: FONT, color: "#1a1a1a", padding: [0, 2, 0, 0] },
          },
          margin: 11,
          fontSize: 13,
          fontFamily: FONT,
          color: "#1a1a1a",
        },
        splitLine: { show: false },
      });
      yAxis.push({
        type: "value",
        gridIndex: gi,
        min: 0,
        max: 10,
        show: false,
      });
      series.push({
        type: "line",
        xAxisIndex: gi,
        yAxisIndex: gi,
        data: SACCADE_BAR_S.map((t) => [t, 5]),
        showSymbol: false,
        silent: true,
        lineStyle: { color: "#000", width: 4, cap: "butt" },
      });
      gi++;
    }
  }

  // calibration bar
  grid.push({
    left: CAL_ORIGIN[0],
    top: CAL_ORIGIN[1] - CAL_MICROVOLTS * PX_PER_UV,
    width: CAL_SECONDS * PX_PER_S,
    height: CAL_MICROVOLTS * PX_PER_UV,
    containLabel: false,
  });
  xAxis.push({ type: "value", gridIndex: gi, min: 0, max: CAL_SECONDS, show: false });
  yAxis.push({ type: "value", gridIndex: gi, min: 0, max: CAL_MICROVOLTS, show: false });
  series.push({
    type: "line",
    xAxisIndex: gi,
    yAxisIndex: gi,
    data: [
      [0, 0],
      [CAL_SECONDS, 0],
      [CAL_SECONDS, CAL_MICROVOLTS],
    ],
    showSymbol: false,
    silent: true,
    clip: false,
    lineStyle: { color: INK, width: 1.4 },
  });
  const calRight = CAL_ORIGIN[0] + CAL_SECONDS * PX_PER_S;
  const calTop = CAL_ORIGIN[1] - CAL_MICROVOLTS * PX_PER_UV;
  graphic.push(
    {
      type: "line",
      shape: { x1: calRight, y1: CAL_ORIGIN[1], x2: calRight + 5, y2: CAL_ORIGIN[1] },
      style: { stroke: INK, lineWidth: 1.2 },
    },
    {
      type: "line",
      shape: { x1: calRight, y1: CAL_ORIGIN[1], x2: calRight, y2: CAL_ORIGIN[1] + 3 },
      style: { stroke: INK, lineWidth: 1.2 },
    },
    {
      type: "line",
      shape: { x1: calRight, y1: calTop + 1, x2: calRight + 3, y2: calTop + 2 },
      style: { stroke: INK, lineWidth: 1 },
    },
    {
      type: "text",
      x: calRight + 5,
      y: (CAL_ORIGIN[1] + calTop) / 2 + 2,
      style: {
        text: "10 µV",
        fontSize: 11,
        fontFamily: FONT,
        fill: "#1a1a1a",
        align: "left",
        verticalAlign: "middle",
      },
    },
    {
      type: "text",
      x: CAL_ORIGIN[0] + 22,
      y: CAL_ORIGIN[1] + 14,
      style: {
        text: "1 s",
        fontSize: 11,
        fontFamily: FONT,
        fill: "#1a1a1a",
        align: "center",
        verticalAlign: "middle",
      },
    }
  );

  return {
    animation: false,
    backgroundColor: "#fff",
    grid,
    xAxis,
    yAxis,
    series,
    graphic,
  };
}

export default function App() {
  const ref = useRef<HTMLDivElement>(null);
  useEffect(() => {
    if (!ref.current) return;
    const chart = echarts.init(ref.current, undefined, { renderer: "svg", width: W, height: H });
    chart.setOption(buildOption() as any);
    return () => chart.dispose();
  }, []);
  return (
    <div
      ref={ref}
      style={{ position: "absolute", left: 0, top: 0, width: W, height: H, background: "#fff" }}
    />
  );
}
